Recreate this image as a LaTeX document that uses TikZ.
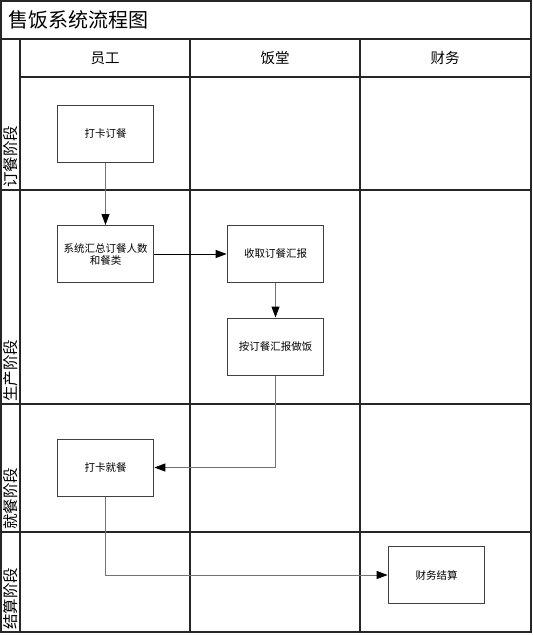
\documentclass[tikz,border=0pt]{standalone}
\usepackage{fontspec}
\setmainfont{Noto Sans CJK SC}
\usetikzlibrary{arrows.meta}
\begin{document}
\begin{tikzpicture}[x=1pt, y=-1pt]
\tikzstyle{lane} 	= [line width = 1.4pt, color = black!85] % swimlane frame lines
\tikzstyle{arrow} 	= [line width = 1pt, color = black!55, -{Triangle[length=11pt, width=8pt, color=black]}] % define standard arrow
\tikzstyle{block} 	= [draw = black!75, line width = 1pt, rectangle, minimum height = 57pt, minimum width = 95pt, text width = 90pt, align = center, font = \fontsize{10.5pt}{12pt}\selectfont] % define block
\tikzstyle{head} 	= [font = \fontsize{14.5pt}{16pt}\selectfont] % lane header
\tikzstyle{phase} 	= [rotate = 90, anchor = west, inner sep = 0pt, font = \fontsize{15.5pt}{16pt}\selectfont] % phase label

\useasboundingbox (0,0) rectangle (533,635);

% frame of the swimlanes
\draw[lane](1,1) rectangle (531,632);
\draw[lane](1,39) -- (531,39);
\draw[lane](20,77) -- (531,77);
\draw[lane](20,39) -- (20,632);
\draw[lane](190,39) -- (190,632);
\draw[lane](360,39) -- (360,632);
\draw[lane](1,190) -- (531,190);
\draw[lane](1,404) -- (531,404);
\draw[lane](1,532) -- (531,532);

% title, lane headers and phases
\node(title)[anchor = west, inner sep = 0pt, font = \fontsize{20pt}{22pt}\selectfont] at (8,20){售饭系统流程图};
\node(staff)[head] at (105,58){员工};
\node(canteen)[head] at (275,58){饭堂};
\node(finance)[head] at (445,58){财务};
\node(order)[phase] at (10.5,188){订餐阶段};
\node(prod)[phase] at (10.5,402){生产阶段};
\node(eat)[phase] at (10.5,530){就餐阶段};
\node(settle)[phase] at (10.5,630){结算阶段};

% process steps
\node(card)[block] at (105.5,133.5){打卡订餐};
\node(sum)[block, below of = card, node distance = 120.5pt]{系统汇总订餐人数\\和餐类};
\node(recv)[block, right of = sum, node distance = 170pt]{收取订餐汇报};
\node(cook)[block, below of = recv, node distance = 92.5pt]{按订餐汇报做饭};
\node(dine)[block, below of = sum, node distance = 213.5pt]{打卡就餐};
\node(pay)[block] at (436.5,575){财务结算};

% flow
\draw[arrow](card) -- (sum);
\draw[arrow, color = black](sum) -- (recv);
\draw[arrow](recv) -- (cook);
\draw[arrow](cook.south) |- (dine.east);
\draw[arrow](dine.south) |- (pay.west);
\end{tikzpicture}
\end{document}
